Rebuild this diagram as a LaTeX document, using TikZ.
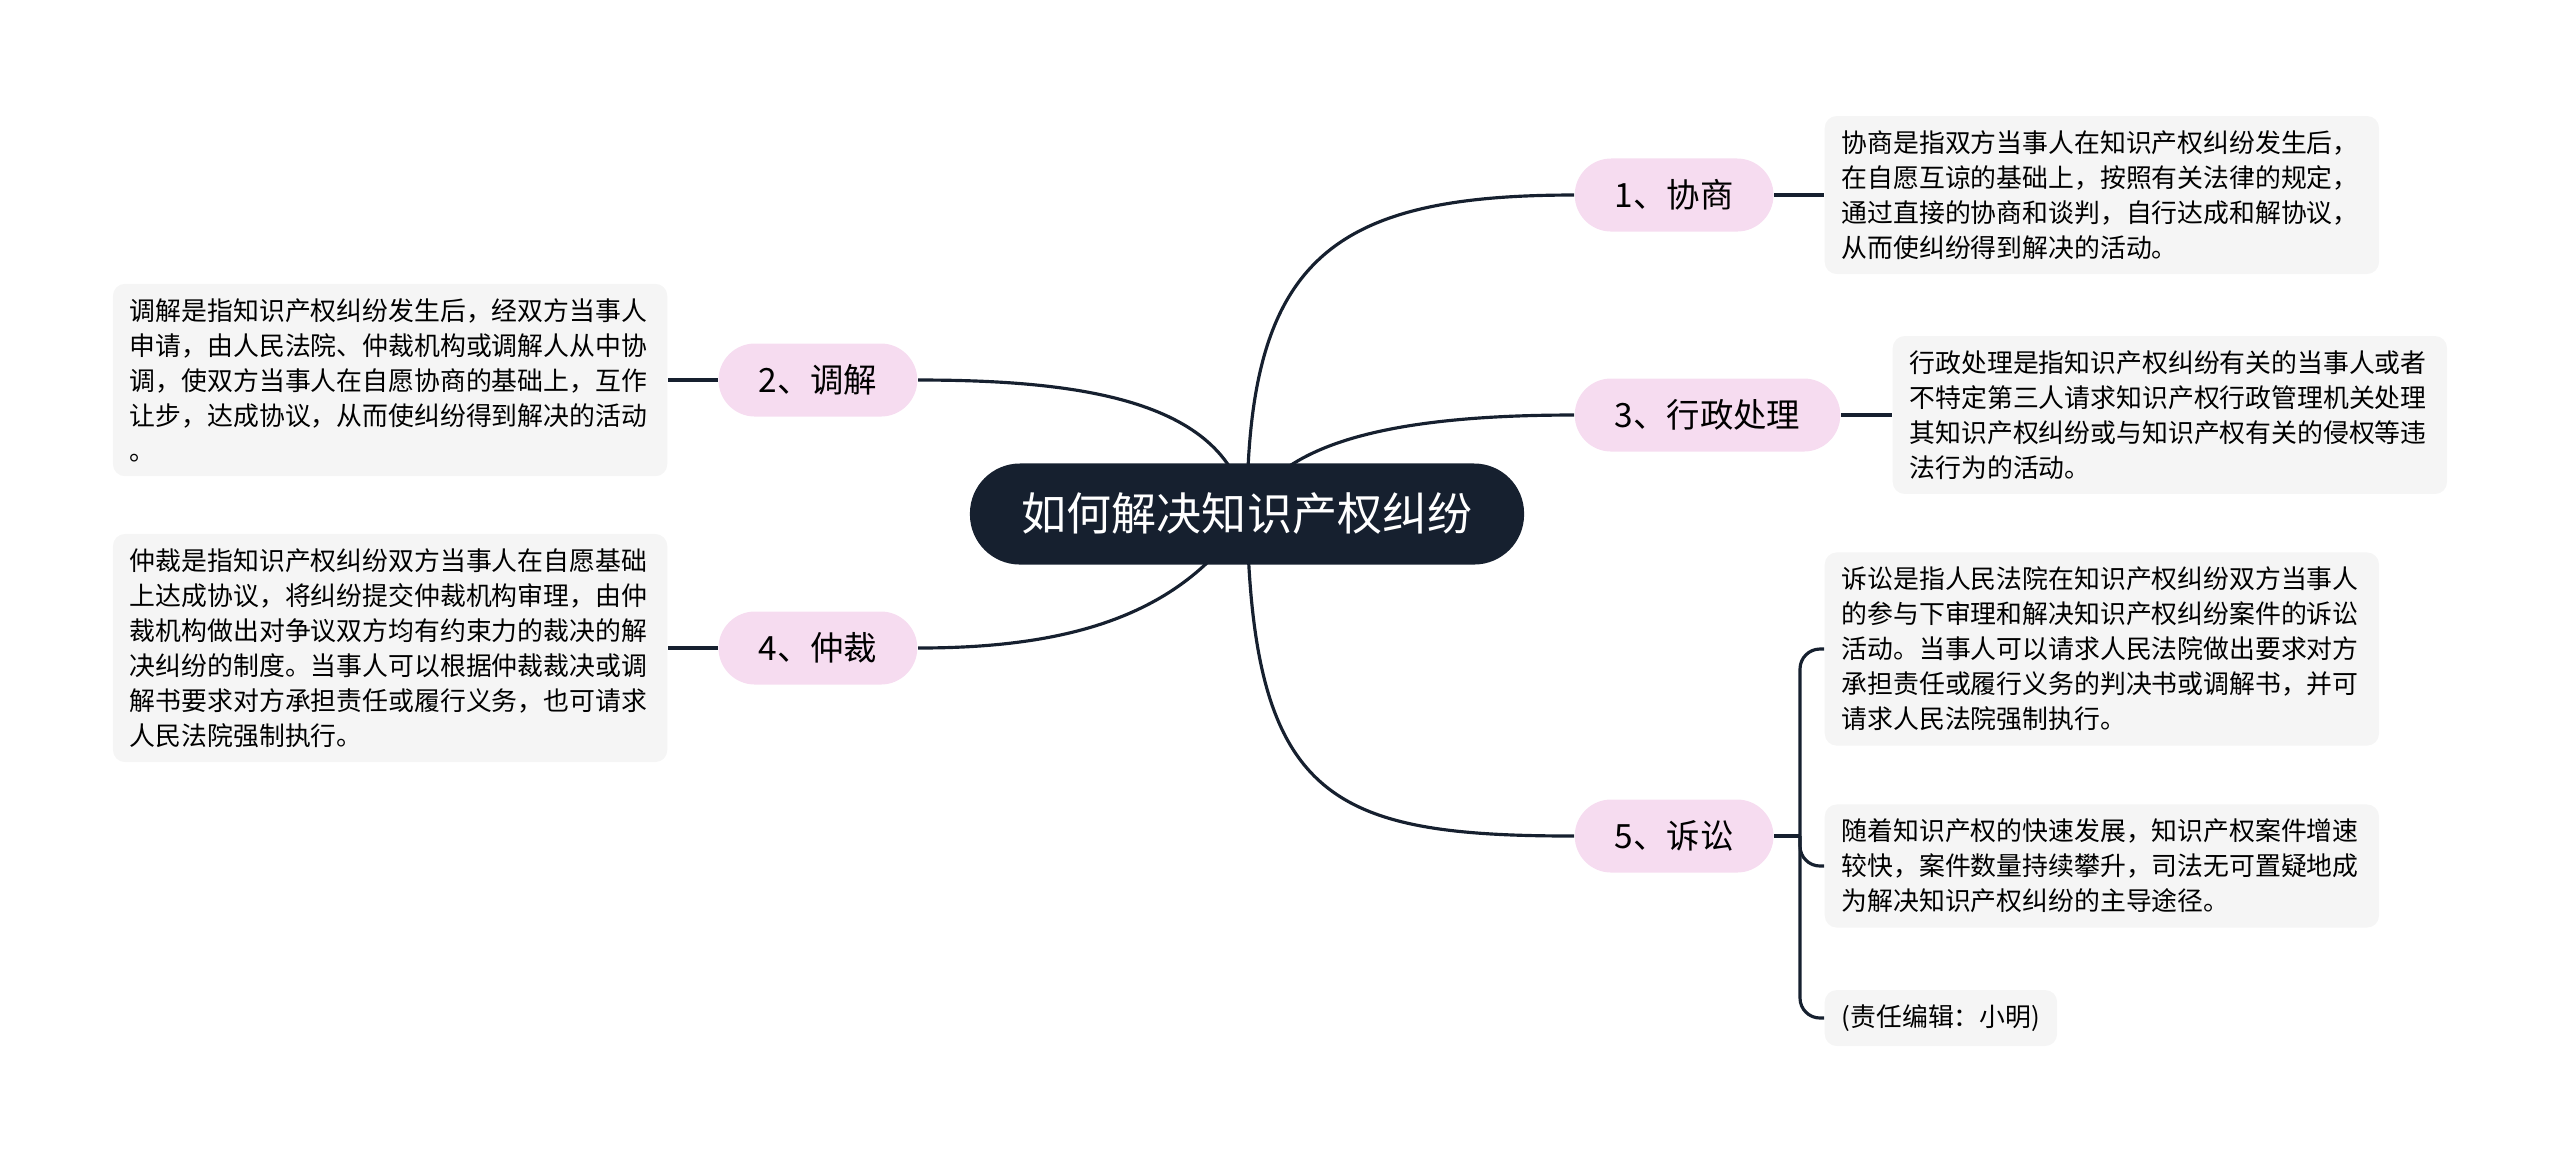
\documentclass[tikz,border=0pt]{standalone}
\usepackage{fontspec}
\setmainfont{Noto Sans CJK SC}
\usetikzlibrary{backgrounds}
\definecolor{rootfill}{HTML}{16202F}
\definecolor{linkcol}{HTML}{16202F}
\definecolor{branchfill}{HTML}{F6DCF0}
\definecolor{leaffill}{HTML}{F5F5F5}

\begin{document}
\begin{tikzpicture}[x=0.01cm, y=-0.01cm,
    root/.style={fill=rootfill, text=white, rounded corners=0.5cm, minimum height=1.01cm,
        inner xsep=0.52cm, font=\fontsize{12.8pt}{14pt}\selectfont},
    branch/.style={fill=branchfill, rounded corners=0.365cm, minimum height=0.73cm,
        inner xsep=0.4cm, font=\fontsize{9.5pt}{11pt}\selectfont},
    note/.style={fill=leaffill, rounded corners=0.12cm, align=left, inner xsep=0.17cm,
        inner ysep=0.145cm, font=\fontsize{7.35pt}{9.95pt}\selectfont},
    leaf/.style={note, text width=5.2cm},
    link/.style={draw=linkcol, line width=0.9pt}]
    \useasboundingbox (0,0) rectangle (2560,1162);

    \node[root] (root) at (1247,514) {如何解决知识产权纠纷};

    \node[branch, anchor=west] (b1) at (1574,195) {1、协商};
    \node[branch, anchor=east] (b2) at (918,380) {2、调解};
    \node[branch, anchor=west] (b3) at (1574,415) {3、行政处理};
    \node[branch, anchor=east] (b4) at (918,648) {4、仲裁};
    \node[branch, anchor=west] (b5) at (1574,836) {5、诉讼};

    \node[leaf, anchor=west] (l1) at (1824,195)
        {协商是指双方当事人在知识产权纠纷发生后，\\在自愿互谅的基础上，按照有关法律的规定，\\通过直接的协商和谈判，自行达成和解协议，\\从而使纠纷得到解决的活动。};
    \node[leaf, anchor=east] (l2) at (668,380)
        {调解是指知识产权纠纷发生后，经双方当事人\\申请，由人民法院、仲裁机构或调解人从中协\\调，使双方当事人在自愿协商的基础上，互作\\让步，达成协议，从而使纠纷得到解决的活动\\。};
    \node[leaf, anchor=west] (l3) at (1892,415)
        {行政处理是指知识产权纠纷有关的当事人或者\\不特定第三人请求知识产权行政管理机关处理\\其知识产权纠纷或与知识产权有关的侵权等违\\法行为的活动。};
    \node[leaf, anchor=east] (l4) at (668,648)
        {仲裁是指知识产权纠纷双方当事人在自愿基础\\上达成协议，将纠纷提交仲裁机构审理，由仲\\裁机构做出对争议双方均有约束力的裁决的解\\决纠纷的制度。当事人可以根据仲裁裁决或调\\解书要求对方承担责任或履行义务，也可请求\\人民法院强制执行。};
    \node[leaf, anchor=west] (l51) at (1824,649)
        {诉讼是指人民法院在知识产权纠纷双方当事人\\的参与下审理和解决知识产权纠纷案件的诉讼\\活动。当事人可以请求人民法院做出要求对方\\承担责任或履行义务的判决书或调解书，并可\\请求人民法院强制执行。};
    \node[leaf, anchor=west] (l52) at (1824,866)
        {随着知识产权的快速发展，知识产权案件增速\\较快，案件数量持续攀升，司法无可置疑地成\\为解决知识产权纠纷的主导途径。};
    \node[note, anchor=west] (l53) at (1824,1018) {(责任编辑：小明)};

    \coordinate (fork) at (1800,836);

    \begin{pgfonlayer}{background}
        \draw[link] (root.center) .. controls (1247,260) and (1330,195) .. (b1.west);
        \draw[link] (root.center) .. controls (1230,400) and (1080,380) .. (b2.east);
        \draw[link] (root.center) .. controls (1280,440) and (1400,415) .. (b3.west);
        \draw[link] (root.center) .. controls (1180,620) and (1060,648) .. (b4.east);
        \draw[link] (root.center) .. controls (1252,800) and (1330,836) .. (b5.west);
    \end{pgfonlayer}

    \draw[link] (b1.east) -- (l1.west);
    \draw[link] (b2.west) -- (l2.east);
    \draw[link] (b3.east) -- (l3.west);
    \draw[link] (b4.west) -- (l4.east);
    \draw[link] (b5.east) -- (fork);
    \draw[link, rounded corners=0.2cm] (fork) |- (l51.west);
    \draw[link, rounded corners=0.2cm] (fork) |- (l52.west);
    \draw[link, rounded corners=0.2cm] (fork) |- (l53.west);
\end{tikzpicture}
\end{document}
